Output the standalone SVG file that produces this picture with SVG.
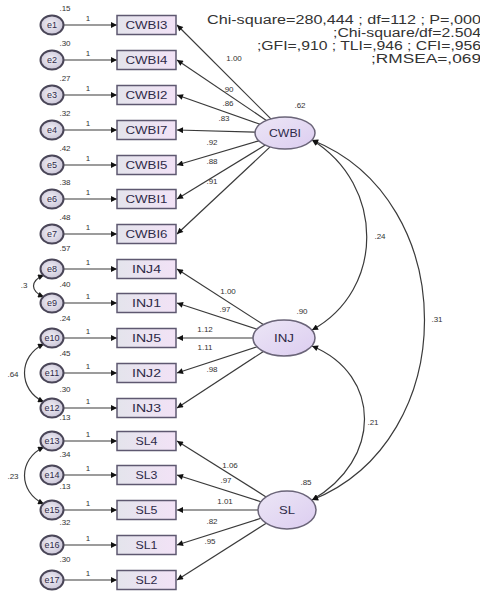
<svg xmlns="http://www.w3.org/2000/svg" width="480" height="592" viewBox="0 0 480 592">
<defs>
<linearGradient id="boxg" x1="0" y1="0" x2="1" y2="0"><stop offset="0" stop-color="#e4e4ec"/><stop offset="1" stop-color="#f2e2f6"/></linearGradient>
<linearGradient id="ellg" x1="0" y1="0" x2="1" y2="1"><stop offset="0" stop-color="#ece6f6"/><stop offset="1" stop-color="#dccdf0"/></linearGradient>
<radialGradient id="errg" cx="0.45" cy="0.45" r="0.6"><stop offset="0" stop-color="#f2f0f6"/><stop offset="1" stop-color="#c8c3d6"/></radialGradient>
<marker id="ah" viewBox="0 0 10 10" refX="10" refY="5" markerWidth="9" markerHeight="6" markerUnits="userSpaceOnUse" orient="auto-start-reverse"><path d="M0,0 L10,5 L0,10 z" fill="#111"/></marker>
</defs>
<style>
.err{fill:url(#errg);stroke:#4a4658;stroke-width:2}
.box{fill:url(#boxg);stroke:#5e5870;stroke-width:1.5}
.lat{fill:url(#ellg);stroke:#6a6478;stroke-width:1.5}
.t{font-family:"Liberation Sans",Arial,sans-serif;fill:#2e2a48}
.et{font-size:9px;text-anchor:middle}
.bt{font-size:10.5px;text-anchor:middle}
.lt{font-size:11.5px;text-anchor:middle}
.s{font-family:"Liberation Sans",Arial,sans-serif;font-size:8px;fill:#333;text-anchor:middle}
.hd{font-family:"Liberation Sans",Arial,sans-serif;font-size:12.5px;fill:#333;text-anchor:end}
.ln{stroke:#3a3a3a;stroke-width:1.2;fill:none;marker-end:url(#ah)}
.cv{stroke:#3a3a3a;stroke-width:1.2;fill:none;marker-start:url(#ah);marker-end:url(#ah)}
</style>
<rect width="480" height="592" fill="#fff"/>

<g id="fit">
<text class="hd" x="481" y="24" textLength="274" lengthAdjust="spacingAndGlyphs">Chi-square=280,444 ; df=112 ; P=,000</text>
<text class="hd" x="481" y="37" textLength="148" lengthAdjust="spacingAndGlyphs">;Chi-square/df=2.504</text>
<text class="hd" x="481" y="50" textLength="224" lengthAdjust="spacingAndGlyphs">;GFI=,910 ; TLI=,946 ; CFI=,956</text>
<text class="hd" x="481" y="63" textLength="110" lengthAdjust="spacingAndGlyphs">;RMSEA=,069</text>
</g>

<g id="connectors">
<path class="ln" d="M63.5,25 H117"/>
<path class="ln" d="M63.5,60 H117"/>
<path class="ln" d="M63.5,95 H117"/>
<path class="ln" d="M63.5,130 H117"/>
<path class="ln" d="M63.5,165 H117"/>
<path class="ln" d="M63.5,199 H117"/>
<path class="ln" d="M63.5,234 H117"/>
<path class="ln" d="M63.5,269 H117"/>
<path class="ln" d="M63.5,303 H117"/>
<path class="ln" d="M63.5,338 H117"/>
<path class="ln" d="M63.5,373 H117"/>
<path class="ln" d="M63.5,408 H117"/>
<path class="ln" d="M63.5,441 H117"/>
<path class="ln" d="M63.5,475 H117"/>
<path class="ln" d="M63.5,510 H117"/>
<path class="ln" d="M63.5,545 H117"/>
<path class="ln" d="M63.5,580 H117"/>

<path class="ln" d="M270.9,118.9 L177,25"/>
<path class="ln" d="M266.4,120.4 L177,60"/>
<path class="ln" d="M260,124.2 L177,95"/>
<path class="ln" d="M255,132.2 L177,130"/>
<path class="ln" d="M258.8,140.8 L177,165"/>
<path class="ln" d="M265.3,145.1 L177,199"/>
<path class="ln" d="M270.1,146.9 L177,234"/>

<path class="ln" d="M263.3,324.6 L177,269"/>
<path class="ln" d="M257,329.2 L177,303"/>
<path class="ln" d="M253,338 L177,338"/>
<path class="ln" d="M257,346.8 L177,373"/>
<path class="ln" d="M263.4,351.5 L177,408"/>

<path class="ln" d="M266.1,496.9 L177,441"/>
<path class="ln" d="M260.9,501.7 L177,475"/>
<path class="ln" d="M258,510 L177,510"/>
<path class="ln" d="M260.9,518.3 L177,545"/>
<path class="ln" d="M266.2,523.2 L177,580"/>

<path class="cv" d="M312,140 C385,185 385,290 312,330"/>
<path class="cv" d="M312,140 C462,200 462,440 312,500"/>
<path class="cv" d="M312,346 C382,375 382,460 312,500"/>

<path class="cv" d="M44,275 C30,281 30,291 44,297"/>
<path class="cv" d="M44,344 C18,356 18,390 44,402"/>
<path class="cv" d="M44,447 C18,459 18,492 44,504"/>

<g id="labels">
<text class="s" x="88" y="21">1</text><text class="s" x="88" y="56">1</text><text class="s" x="88" y="91">1</text><text class="s" x="88" y="126">1</text><text class="s" x="88" y="161">1</text><text class="s" x="88" y="195">1</text><text class="s" x="88" y="230">1</text><text class="s" x="88" y="265">1</text><text class="s" x="88" y="299">1</text><text class="s" x="88" y="334">1</text><text class="s" x="88" y="369">1</text><text class="s" x="88" y="404">1</text><text class="s" x="88" y="437">1</text><text class="s" x="88" y="471">1</text><text class="s" x="88" y="506">1</text><text class="s" x="88" y="541">1</text><text class="s" x="88" y="576">1</text>
<text class="s" x="234" y="61">1.00</text>
<text class="s" x="228" y="92">.90</text>
<text class="s" x="228" y="106">.86</text>
<text class="s" x="224" y="121">.83</text>
<text class="s" x="212" y="145">.92</text>
<text class="s" x="212" y="164">.88</text>
<text class="s" x="212" y="184">.91</text>
<text class="s" x="228" y="294">1.00</text>
<text class="s" x="225" y="312">.97</text>
<text class="s" x="205" y="332">1.12</text>
<text class="s" x="205" y="350">1.11</text>
<text class="s" x="212" y="372">.98</text>
<text class="s" x="230" y="468">1.06</text>
<text class="s" x="226" y="483">.97</text>
<text class="s" x="225" y="504">1.01</text>
<text class="s" x="212" y="524">.82</text>
<text class="s" x="210" y="544">.95</text>
<text class="s" x="380" y="239">.24</text>
<text class="s" x="437" y="322">.31</text>
<text class="s" x="373" y="425">.21</text>
<text class="s" x="24" y="288">.3</text>
<text class="s" x="13" y="377">.64</text>
<text class="s" x="13" y="479">.23</text>
</g>
</g>

<g id="e1"><ellipse class="err" cx="52" cy="25" rx="11.5" ry="9.5"/><text class="t et" x="52" y="28">e1</text><text class="s" x="65" y="11">.15</text></g>
<g id="e2"><ellipse class="err" cx="52" cy="60" rx="11.5" ry="9.5"/><text class="t et" x="52" y="63">e2</text><text class="s" x="65" y="46">.30</text></g>
<g id="e3"><ellipse class="err" cx="52" cy="95" rx="11.5" ry="9.5"/><text class="t et" x="52" y="98">e3</text><text class="s" x="65" y="81">.27</text></g>
<g id="e4"><ellipse class="err" cx="52" cy="130" rx="11.5" ry="9.5"/><text class="t et" x="52" y="133">e4</text><text class="s" x="65" y="116">.32</text></g>
<g id="e5"><ellipse class="err" cx="52" cy="165" rx="11.5" ry="9.5"/><text class="t et" x="52" y="168">e5</text><text class="s" x="65" y="151">.42</text></g>
<g id="e6"><ellipse class="err" cx="52" cy="199" rx="11.5" ry="9.5"/><text class="t et" x="52" y="202">e6</text><text class="s" x="65" y="185">.38</text></g>
<g id="e7"><ellipse class="err" cx="52" cy="234" rx="11.5" ry="9.5"/><text class="t et" x="52" y="237">e7</text><text class="s" x="65" y="220">.48</text></g>
<g id="e8"><ellipse class="err" cx="52" cy="269" rx="11.5" ry="9.5"/><text class="t et" x="52" y="272">e8</text><text class="s" x="65" y="251">.57</text></g>
<g id="e9"><ellipse class="err" cx="52" cy="303" rx="11.5" ry="9.5"/><text class="t et" x="52" y="306">e9</text><text class="s" x="65" y="287">.40</text></g>
<g id="e10"><ellipse class="err" cx="52" cy="338" rx="11.5" ry="9.5"/><text class="t et" x="52" y="341">e10</text><text class="s" x="65" y="321">.24</text></g>
<g id="e11"><ellipse class="err" cx="52" cy="373" rx="11.5" ry="9.5"/><text class="t et" x="52" y="376">e11</text><text class="s" x="65" y="356">.45</text></g>
<g id="e12"><ellipse class="err" cx="52" cy="408" rx="11.5" ry="9.5"/><text class="t et" x="52" y="411">e12</text><text class="s" x="65" y="392">.30</text></g>
<g id="e13"><ellipse class="err" cx="52" cy="441" rx="11.5" ry="9.5"/><text class="t et" x="52" y="444">e13</text><text class="s" x="65" y="420">.13</text></g>
<g id="e14"><ellipse class="err" cx="52" cy="475" rx="11.5" ry="9.5"/><text class="t et" x="52" y="478">e14</text><text class="s" x="65" y="457">.34</text></g>
<g id="e15"><ellipse class="err" cx="52" cy="510" rx="11.5" ry="9.5"/><text class="t et" x="52" y="513">e15</text><text class="s" x="65" y="489">.13</text></g>
<g id="e16"><ellipse class="err" cx="52" cy="545" rx="11.5" ry="9.5"/><text class="t et" x="52" y="548">e16</text><text class="s" x="65" y="525">.32</text></g>
<g id="e17"><ellipse class="err" cx="52" cy="580" rx="11.5" ry="9.5"/><text class="t et" x="52" y="583">e17</text><text class="s" x="65" y="562">.30</text></g>

<g id="CWBI3"><rect class="box" x="117" y="15.5" width="59" height="19"/><text class="t bt" x="146.5" y="29" textLength="42" lengthAdjust="spacingAndGlyphs">CWBI3</text></g>
<g id="CWBI4"><rect class="box" x="117" y="50.5" width="59" height="19"/><text class="t bt" x="146.5" y="64" textLength="42" lengthAdjust="spacingAndGlyphs">CWBI4</text></g>
<g id="CWBI2"><rect class="box" x="117" y="85.5" width="59" height="19"/><text class="t bt" x="146.5" y="99" textLength="42" lengthAdjust="spacingAndGlyphs">CWBI2</text></g>
<g id="CWBI7"><rect class="box" x="117" y="120.5" width="59" height="19"/><text class="t bt" x="146.5" y="134" textLength="42" lengthAdjust="spacingAndGlyphs">CWBI7</text></g>
<g id="CWBI5"><rect class="box" x="117" y="155.5" width="59" height="19"/><text class="t bt" x="146.5" y="169" textLength="42" lengthAdjust="spacingAndGlyphs">CWBI5</text></g>
<g id="CWBI1"><rect class="box" x="117" y="189.5" width="59" height="19"/><text class="t bt" x="146.5" y="203" textLength="42" lengthAdjust="spacingAndGlyphs">CWBI1</text></g>
<g id="CWBI6"><rect class="box" x="117" y="224.5" width="59" height="19"/><text class="t bt" x="146.5" y="238" textLength="42" lengthAdjust="spacingAndGlyphs">CWBI6</text></g>
<g id="INJ4"><rect class="box" x="117" y="259.5" width="59" height="19"/><text class="t bt" x="146.5" y="273" textLength="29" lengthAdjust="spacingAndGlyphs">INJ4</text></g>
<g id="INJ1"><rect class="box" x="117" y="293.5" width="59" height="19"/><text class="t bt" x="146.5" y="307" textLength="29" lengthAdjust="spacingAndGlyphs">INJ1</text></g>
<g id="INJ5"><rect class="box" x="117" y="328.5" width="59" height="19"/><text class="t bt" x="146.5" y="342" textLength="29" lengthAdjust="spacingAndGlyphs">INJ5</text></g>
<g id="INJ2"><rect class="box" x="117" y="363.5" width="59" height="19"/><text class="t bt" x="146.5" y="377" textLength="29" lengthAdjust="spacingAndGlyphs">INJ2</text></g>
<g id="INJ3"><rect class="box" x="117" y="398.5" width="59" height="19"/><text class="t bt" x="146.5" y="412" textLength="29" lengthAdjust="spacingAndGlyphs">INJ3</text></g>
<g id="SL4"><rect class="box" x="117" y="431.5" width="59" height="19"/><text class="t bt" x="146.5" y="445" textLength="22" lengthAdjust="spacingAndGlyphs">SL4</text></g>
<g id="SL3"><rect class="box" x="117" y="465.5" width="59" height="19"/><text class="t bt" x="146.5" y="479" textLength="22" lengthAdjust="spacingAndGlyphs">SL3</text></g>
<g id="SL5"><rect class="box" x="117" y="500.5" width="59" height="19"/><text class="t bt" x="146.5" y="514" textLength="22" lengthAdjust="spacingAndGlyphs">SL5</text></g>
<g id="SL1"><rect class="box" x="117" y="535.5" width="59" height="19"/><text class="t bt" x="146.5" y="549" textLength="22" lengthAdjust="spacingAndGlyphs">SL1</text></g>
<g id="SL2"><rect class="box" x="117" y="570.5" width="59" height="19"/><text class="t bt" x="146.5" y="584" textLength="22" lengthAdjust="spacingAndGlyphs">SL2</text></g>

<g id="CWBI"><ellipse class="lat" cx="285" cy="133" rx="30" ry="16"/><text class="t lt" x="285" y="137" textLength="32" lengthAdjust="spacingAndGlyphs">CWBI</text><text class="s" x="300" y="108">.62</text></g>
<g id="INJ"><ellipse class="lat" cx="284" cy="338" rx="31" ry="18"/><text class="t lt" x="284" y="342" textLength="20" lengthAdjust="spacingAndGlyphs">INJ</text><text class="s" x="302" y="314">.90</text></g>
<g id="SL"><ellipse class="lat" cx="287" cy="510" rx="29" ry="19"/><text class="t lt" x="287" y="514" textLength="16" lengthAdjust="spacingAndGlyphs">SL</text><text class="s" x="306" y="485">.85</text></g>
</svg>
